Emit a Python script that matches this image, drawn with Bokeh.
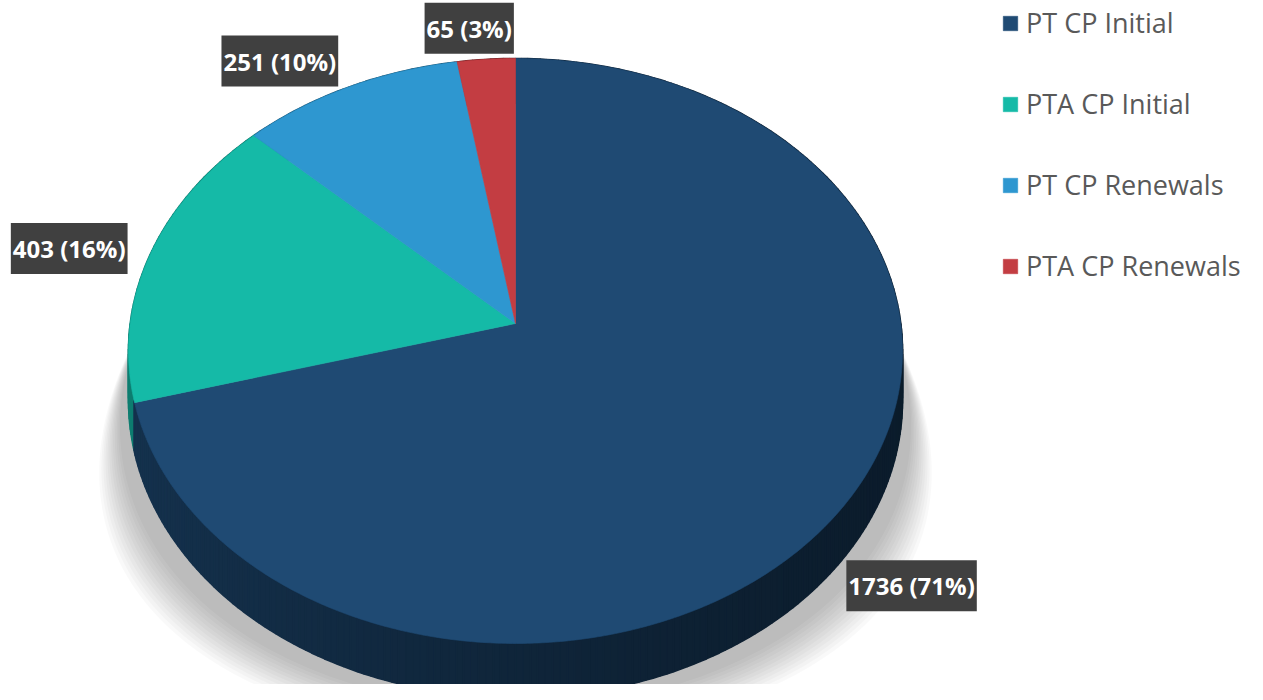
import numpy as np
from bokeh.plotting import figure
from bokeh.models import Range1d, Label, Legend, LegendItem
from bokeh.embed import file_html
from bokeh.resources import INLINE

# ---------------- data ----------------
categories = ["PT CP Initial", "PTA CP Initial", "PT CP Renewals", "PTA CP Renewals"]
counts = [1736, 403, 251, 65]

# ---------------- style ----------------
colors = ["#1F4A73", "#15BAA7", "#2E97D0", "#C33D42"]
label_offsets = [(71, 76), (-81, -6), (-69, -26), (-17, -31)]  # px from rim midpoint

W, H = 1247, 684
CX, CY = 515.0, 323.0          # projected centre of the pie
A, B, K = 385.3, 289.9, 0.094  # perspective ellipse parameters
T = 49.0                       # thickness

def proj(phi, depth=0.0, r=1.0):
    u = r * np.sin(phi)
    v = r * np.cos(phi)
    d = 1 + K * v
    return CX + A * u / d, CY - B * v / d + depth / d, v

def hex2rgb(h):
    h = h.lstrip("#")
    return tuple(int(h[i:i + 2], 16) for i in (0, 2, 4))

def shade(h, f):
    r, g, b = hex2rgb(h)
    return "#%02x%02x%02x" % (int(r * f), int(g * f), int(b * f))

p = figure(width=W, height=H, x_range=Range1d(0, W), y_range=Range1d(H, 0),
           output_backend="svg", toolbar_location=None, min_border=0,
           x_axis_location=None, y_axis_location=None)
p.grid.visible = False
p.outline_line_color = None
p.background_fill_color = "white"
p.border_fill_color = "white"

total = float(sum(counts))
fr = np.array(counts) / total
ends = np.cumsum(fr)
starts = ends - fr

# ---------------- soft shadow ----------------
phis = np.linspace(0, 2 * np.pi, 361)
bx, by, _ = proj(phis, depth=T)
t = np.clip((by - 330.0) / 370.0, 0, None)
N = 12
for i in range(N):
    g = 0.10 + 0.18 * i / (N - 1)
    dy = 10 + 30 * i / (N - 1)
    sx = CX + (bx - CX) * (1 + g * t)
    sy = by + dy * t
    p.patch(list(sx), list(sy), fill_color="black", fill_alpha=0.022, line_color=None)

# ---------------- side (cylinder wall) ----------------
xs_q, ys_q, cs_q, vs_q = [], [], [], []
NQ = 360
step = 2 * np.pi / NQ
for j in range(NQ):
    a0, a1 = j * step, (j + 1) * step
    frac = (a0 + a1) / 2 / (2 * np.pi)
    k = int(np.searchsorted(ends, frac, side="right"))
    k = min(k, len(counts) - 1)
    x0, y0, v0 = proj(a0)
    x1, y1, v1 = proj(a1)
    x0b, y0b, _ = proj(a0, depth=T)
    x1b, y1b, _ = proj(a1, depth=T)
    xm = (x0 + x1) / 2
    f = 0.68 - 0.30 * np.clip((xm - 128) / (903 - 128), 0, 1) ** 0.8
    xs_q.append([x0, x1, x1b, x0b])
    ys_q.append([y0, y1, y1b, y0b])
    cs_q.append(shade(colors[k], f))
    vs_q.append((v0 + v1) / 2)
order = np.argsort(-np.array(vs_q))
p.patches([xs_q[o] for o in order], [ys_q[o] for o in order],
          fill_color=[cs_q[o] for o in order], line_color=[cs_q[o] for o in order],
          line_width=1.6)

# ---------------- top face ----------------
renderers = []
for i in range(len(counts)):
    a0, a1 = 2 * np.pi * starts[i], 2 * np.pi * ends[i]
    n = max(int((a1 - a0) / (2 * np.pi) * 720), 4)
    ph = np.linspace(a0, a1, n)
    ax, ay, _ = proj(ph)
    xs = [CX] + list(ax)
    ys = [CY] + list(ay)
    r = p.patch(xs, ys, fill_color=colors[i], line_color=colors[i], line_width=0.6)
    renderers.append(r)

# ---------------- data labels ----------------
for i in range(len(counts)):
    mid = 2 * np.pi * (starts[i] + ends[i]) / 2
    mx, my, _ = proj(mid)
    lx, ly = mx + label_offsets[i][0], my + label_offsets[i][1]
    txt = f"{counts[i]} ({round(fr[i] * 100)}%)"
    sh = Label(x=lx, y=ly, x_offset=3, y_offset=-4, text=txt, text_align="center",
               text_baseline="middle", text_font="Open Sans", text_font_style="bold",
               text_font_size="24px", text_alpha=0.0, background_fill_color="black",
               background_fill_alpha=0.22, padding=(2, 9))
    lb = Label(x=lx, y=ly, text=txt, text_align="center", text_baseline="middle",
               text_font="Open Sans", text_font_style="bold", text_font_size="24px",
               text_color="white", background_fill_color="#404040", padding=(2, 9))
    p.add_layout(sh)
    p.add_layout(lb)

# ---------------- legend ----------------
items = [LegendItem(label=categories[i], renderers=[renderers[i]]) for i in range(len(counts))]
legend = Legend(items=items, location=(1001, 400), orientation="vertical",
                glyph_width=18, glyph_height=18, label_text_font="Open Sans",
                label_text_font_size="27px", label_text_color="#595959",
                label_standoff=7, spacing=44, padding=0, margin=0,
                border_line_color=None, background_fill_alpha=0.0)
p.add_layout(legend)

open("out.html", "w").write(file_html(p, INLINE))
